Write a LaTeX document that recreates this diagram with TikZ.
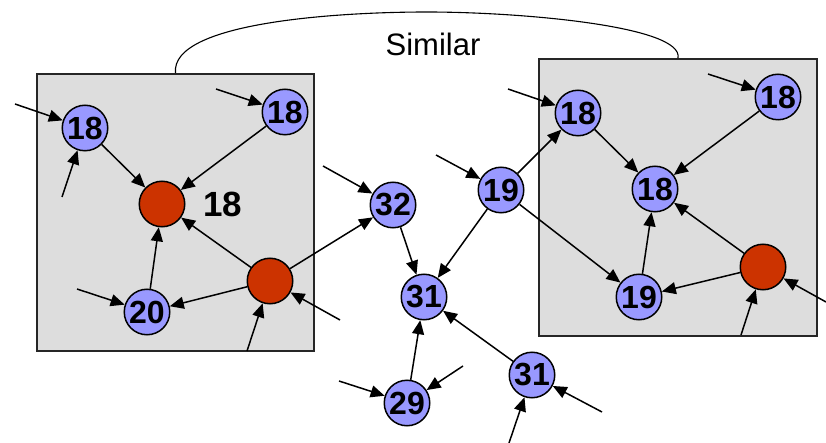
\documentclass[tikz,border=0pt]{standalone}
\usepackage{fontspec}
\setmainfont{Liberation Sans}
\usetikzlibrary{arrows.meta}
\definecolor{nodeblue}{HTML}{9999FF}
\definecolor{nodered}{HTML}{CC3300}
\definecolor{panel}{HTML}{DDDDDD}
\begin{document}
\begin{tikzpicture}[x=1pt,y=-1pt,
  vert/.style={circle, draw=black, line width=1.5pt, minimum size=45.5pt, inner sep=0pt,
    font=\fontsize{32}{32}\selectfont\bfseries},
  bluevert/.style={vert, fill=nodeblue},
  redvert/.style={vert, fill=nodered},
  edge/.style={-{Triangle[length=14pt,width=12pt]}, line width=1.5pt},
  panelbox/.style={draw=black!85, fill=panel, line width=1.8pt, inner sep=0pt,
    minimum width=277pt, minimum height=277pt}]
\useasboundingbox (0,0) rectangle (826,443);

% the two panels and the link between them
\node[panelbox] (lbox) at (175.5,212.5) {};
\node[panelbox, minimum width=278pt] (rbox) at (678,197.5) {};
\draw[line width=1.1pt] (lbox.north) .. controls (170,22) and (340,12) .. (427,12)
  .. controls (520,12) and (684,26) .. (rbox.north);
\node[font=\fontsize{31}{31}\selectfont] (sim) at (433,44) {Similar};

% left panel
\node[bluevert] (a1) at (85,128) {18};
\node[bluevert] (a2) at (285,112) {18};
\node[redvert]  (a3) at (162,204) {};
\node[font=\fontsize{35}{35}\selectfont\bfseries] (a3lab) at (223,204) {18};
\node[redvert]  (a4) at (270,281) {};
\node[bluevert] (a5) at (147,312) {20};

% middle
\node[bluevert] (m32) at (393,205) {32};
\node[bluevert] (m31) at (424,297) {31};
\node[bluevert] (m19) at (501,190) {19};
\node[bluevert] (m29) at (407,403) {29};
\node[bluevert] (m31b) at (532,375) {31};

% right panel
\node[bluevert] (b1) at (578,113) {18};
\node[bluevert] (b2) at (778,97) {18};
\node[bluevert] (b3) at (655,189) {18};
\node[bluevert] (b4) at (639,297) {19};
\node[redvert]  (b5) at (763,267) {};

% loose incoming ends
\coordinate (i1) at (15,104);
\coordinate (i2) at (62,197);
\coordinate (i3) at (216,89);
\coordinate (i4) at (77,289);
\coordinate (i5) at (247,351);
\coordinate (i6) at (340,320);
\coordinate (i7) at (323,166);
\coordinate (i8) at (436,155);
\coordinate (i9) at (339,381);
\coordinate (i10) at (463,366);
\coordinate (i11) at (509,443);
\coordinate (i12) at (602,412);
\coordinate (i13) at (508,89);
\coordinate (i14) at (708,74);
\coordinate (i15) at (741,335);
\coordinate (i16) at (826,302);

\draw[edge] (i1) -- (a1);
\draw[edge] (i2) -- (a1);
\draw[edge] (i3) -- (a2);
\draw[edge] (i4) -- (a5);
\draw[edge] (i5) -- (a4);
\draw[edge] (i6) -- (a4);
\draw[edge] (i7) -- (m32);
\draw[edge] (i8) -- (m19);
\draw[edge] (i9) -- (m29);
\draw[edge] (i10) -- (m29);
\draw[edge] (i11) -- (m31b);
\draw[edge] (i12) -- (m31b);
\draw[edge] (i13) -- (b1);
\draw[edge] (i14) -- (b2);
\draw[edge] (i15) -- (b5);
\draw[edge] (i16) -- (b5);

% edges between vertices
\draw[edge] (a1) -- (a3);
\draw[edge] (a2) -- (a3);
\draw[edge] (a5) -- (a3);
\draw[edge] (a4) -- (a3);
\draw[edge] (a4) -- (a5);
\draw[edge] (a4) -- (m32);
\draw[edge] (m32) -- (m31);
\draw[edge] (m19) -- (m31);
\draw[edge] (m29) -- (m31);
\draw[edge] (m31b) -- (m31);
\draw[edge] (m19) -- (b1);
\draw[edge] (m19) -- (b4);
\draw[edge] (b1) -- (b3);
\draw[edge] (b2) -- (b3);
\draw[edge] (b4) -- (b3);
\draw[edge] (b5) -- (b3);
\draw[edge] (b5) -- (b4);
\end{tikzpicture}
\end{document}
